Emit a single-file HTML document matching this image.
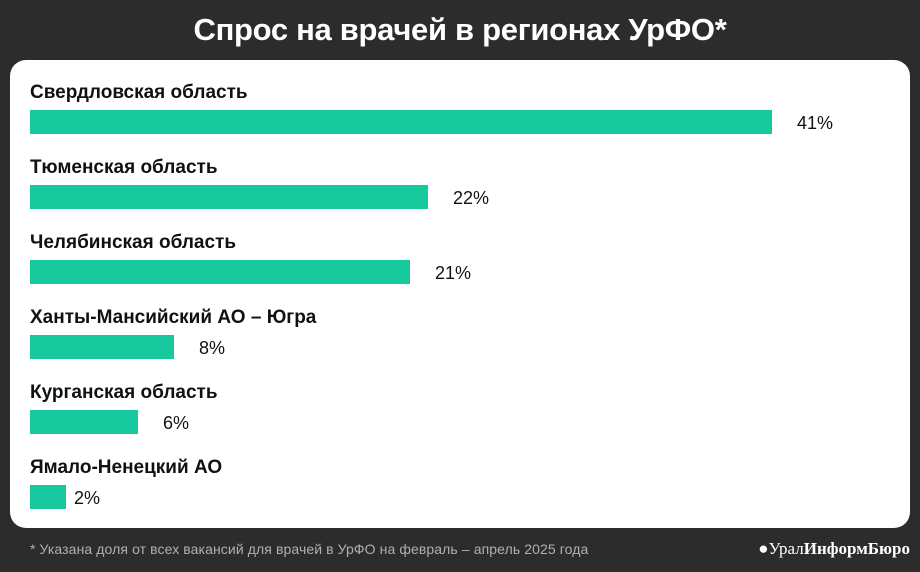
<!DOCTYPE html>
<html><head><meta charset="utf-8"><style>
body{margin:0;width:920px;height:572px;background:#2c2c2c;font-family:"Liberation Sans",sans-serif;position:relative;overflow:hidden}
.t{position:absolute;left:0;width:920px;top:12px;text-align:center;color:#fff;font-weight:bold;font-size:31px;letter-spacing:-0.3px}
.card{position:absolute;left:10px;top:60px;width:900px;height:468px;background:#fff;border-radius:16px}
.l{position:absolute;left:30px;font-weight:bold;font-size:19px;color:#111}
.b{position:absolute;left:30px;height:24px;background:#17c99c}
.v{position:absolute;font-size:18px;color:#111}
.f{position:absolute;left:30px;top:541px;color:#b0b0b0;font-size:14px;letter-spacing:0.1px}
.logo{position:absolute;right:10px;top:539px;color:#fff;font-size:17px;font-family:"Liberation Serif",serif}
</style></head><body>
<div class="t">Спрос на врачей в регионах УрФО*</div>
<div class="card"></div>
<div class="l" style="top:82px">Свердловская область</div>
<div class="b" style="top:110px;width:742px"></div><div class="v" style="left:797px;top:113px">41%</div>
<div class="l" style="top:157px">Тюменская область</div>
<div class="b" style="top:185px;width:398px"></div><div class="v" style="left:453px;top:188px">22%</div>
<div class="l" style="top:232px">Челябинская область</div>
<div class="b" style="top:260px;width:380px"></div><div class="v" style="left:435px;top:263px">21%</div>
<div class="l" style="top:307px">Ханты-Мансийский АО – Югра</div>
<div class="b" style="top:335px;width:144px"></div><div class="v" style="left:199px;top:338px">8%</div>
<div class="l" style="top:382px">Курганская область</div>
<div class="b" style="top:410px;width:108px"></div><div class="v" style="left:163px;top:413px">6%</div>
<div class="l" style="top:457px">Ямало-Ненецкий АО</div>
<div class="b" style="top:485px;width:36px"></div><div class="v" style="left:74px;top:488px">2%</div>
<div class="f">* Указана доля от всех вакансий для врачей в УрФО на февраль – апрель 2025 года</div>
<div class="logo">●Урал<b>ИнформБюро</b></div>
</body></html>
